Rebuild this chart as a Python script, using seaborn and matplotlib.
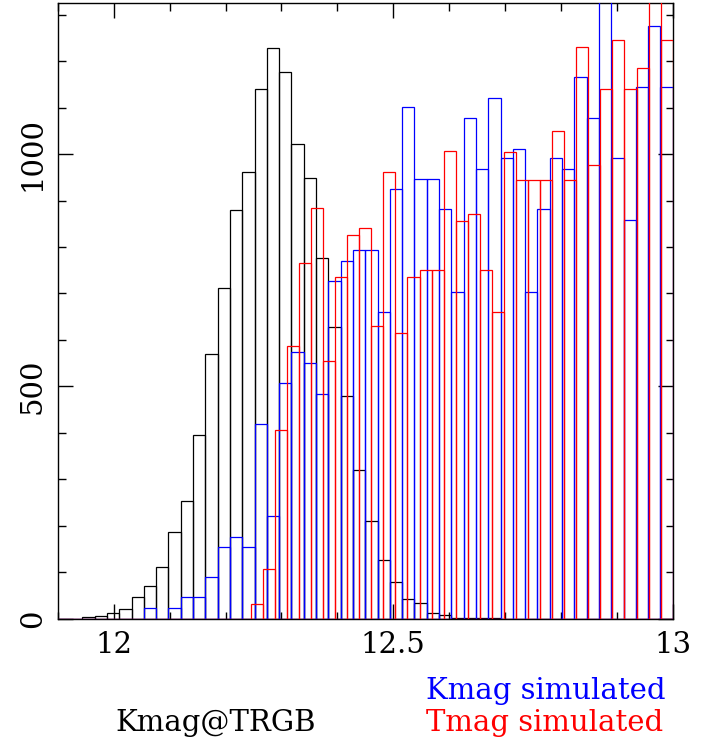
import numpy as np
import pandas as pd
import matplotlib
matplotlib.use("Agg")
import matplotlib.pyplot as plt
from matplotlib.ticker import MultipleLocator, FixedLocator
import seaborn as sns

# ---- data (counts per bin) ----
# Kmag@TRGB and Kmag simulated: 50 bins over [11.9, 13.0]
kmag_trgb_counts = [0, 0, 3, 5, 11, 20, 46, 69, 110, 186,
                    254, 395, 570, 712, 880, 961, 1141, 1229, 1177, 1023,
                    949, 776, 627, 480, 319, 211, 126, 79, 43, 33,
                    11, 7, 2, 1, 2, 1, 0, 0, 0, 0,
                    0, 0, 0, 0, 0, 0, 0, 0, 0, 0]
kmag_sim_counts = [0, 0, 0, 0, 0, 0, 0, 22, 0, 22,
                   46, 46, 89, 155, 176, 155, 418, 220, 507, 573,
                   551, 484, 726, 770, 794, 794, 660, 924, 1101, 947,
                   947, 881, 704, 1079, 968, 1122, 991, 1012, 704, 881,
                   991, 968, 1166, 1079, 1400, 991, 859, 1145, 1277, 1145]
# Tmag simulated: 51 bins over [11.9, 13.0]
tmag_sim_counts = [0, 0, 0, 0, 0, 0, 0, 0, 0, 0,
                   0, 0, 0, 0, 0, 0, 31, 106, 406, 586,
                   765, 885, 555, 735, 826, 840, 631, 961, 615, 735,
                   750, 750, 1006, 856, 871, 750, 660, 1005, 945, 945,
                   945, 1050, 945, 1230, 976, 1140, 1246, 1140, 1186, 1400,
                   1246]
x_range = (11.9, 13.0)
n_bins_k = 50
n_bins_t = 51
x_ticks = [12, 12.5, 13]
x_ticklabels = ["12", "12.5", "13"]
y_ticks = [0, 500, 1000]
y_ticklabels = ["0", "500", "1000"]

sns.set_style("ticks")
plt.rcParams["font.family"] = ["DejaVu Serif"]

W, H = 715, 744
fig = plt.figure(figsize=(W / 100, H / 100), dpi=100)
left, right, top, bottom = 57.8, 672.7, 3.3, 618.5
ax = fig.add_axes([left / W, 1 - bottom / H, (right - left) / W, (bottom - top) / H])

series = [
    (kmag_trgb_counts, n_bins_k, "black"),
    (kmag_sim_counts, n_bins_k, "#0000ff"),
    (tmag_sim_counts, n_bins_t, "#ff0000"),
]
for counts, nb, col in series:
    edges = np.linspace(x_range[0], x_range[1], nb + 1)
    centers = (edges[:-1] + edges[1:]) / 2
    df = pd.DataFrame({"mag": centers, "n": counts})
    sns.histplot(data=df, x="mag", weights="n", bins=[float(e) for e in edges],
                 element="bars", fill=False, color=col, linewidth=0.9,
                 zorder=3, ax=ax)

ax.set_xlim(*x_range)
ax.set_ylim(0, 1325)
ax.set_xlabel("")
ax.set_ylabel("")

ax.xaxis.set_major_locator(FixedLocator(x_ticks))
ax.set_xticklabels(x_ticklabels)
ax.xaxis.set_minor_locator(MultipleLocator(0.1))
ax.yaxis.set_major_locator(FixedLocator(y_ticks))
ax.set_yticklabels(y_ticklabels)
ax.yaxis.set_minor_locator(MultipleLocator(100))

ax.tick_params(which="both", direction="in", top=True, right=True, width=1.0, colors="black")
ax.tick_params(which="major", length=10.8)
ax.tick_params(which="minor", length=5.4)
ax.tick_params(axis="x", which="major", labelsize=21, pad=9)
ax.tick_params(axis="y", which="major", labelsize=21, pad=8, labelrotation=90)
for lbl in ax.get_yticklabels():
    lbl.set_va("center")

for s in ax.spines.values():
    s.set_linewidth(1.0)
    s.set_color("black")

fig.text(665 / W, 1 - 699 / H, "Kmag simulated", color="#0000ff", fontsize=21,
         ha="right", va="baseline")
fig.text(663 / W, 1 - 731 / H, "Tmag simulated", color="#ff0000", fontsize=21,
         ha="right", va="baseline")
fig.text(115 / W, 1 - 731 / H, "Kmag@TRGB", color="black", fontsize=21,
         ha="left", va="baseline")

fig.savefig("out.png", dpi=100)
